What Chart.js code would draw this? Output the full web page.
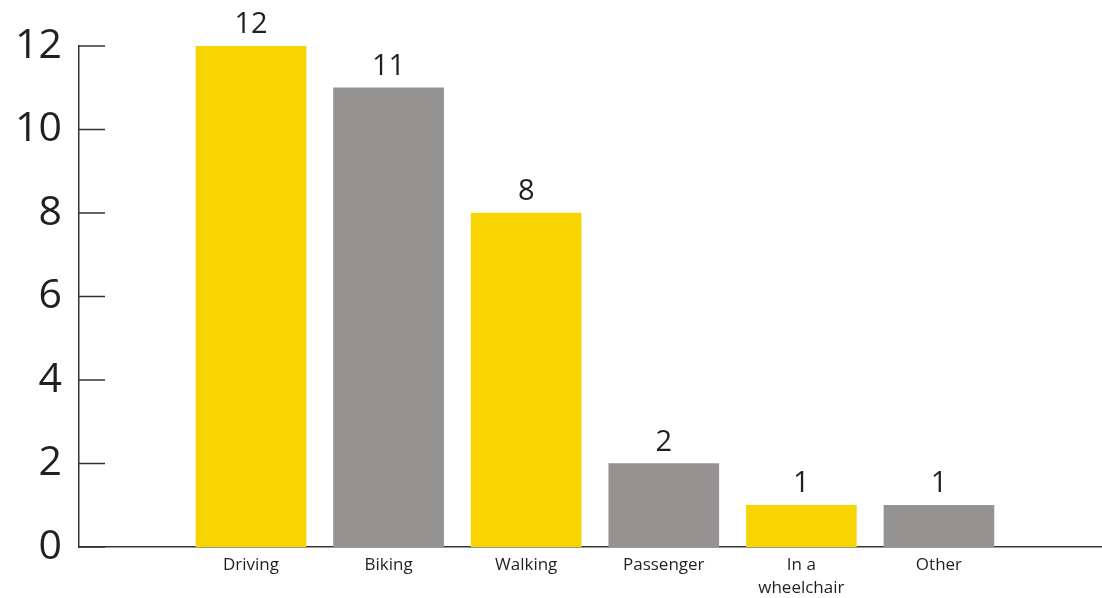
<!DOCTYPE html>
<html>
<head>
<meta charset="utf-8">
<script src="https://cdn.jsdelivr.net/npm/chart.js@4"></script>
<style>
  body { margin: 0; background: #fff; }
  #wrap { width: 1102px; height: 598px; }
</style>
</head>
<body>
<div id="wrap"><canvas id="modos" width="1102" height="598"></canvas></div>
<script>
const categorias = ['Driving', 'Biking', 'Walking', 'Passenger', ['In a', 'wheelchair'], 'Other'];
const valores = [12, 11, 8, 2, 1, 1];
const colores = ['#f8d500', '#949391', '#f8d500', '#949391', '#f8d500', '#949391'];
const ticksY = [0, 2, 4, 6, 8, 10, 12];

const tinta = '#231f20';

// numeros encima de cada barra
const etiquetas = {
    id: 'etiquetas',
    afterDatasetsDraw(chart) {
        const ctx = chart.ctx;
        const meta = chart.getDatasetMeta(0);
        ctx.save();
        ctx.font = '29px "Open Sans"';
        ctx.fillStyle = tinta;
        ctx.textAlign = 'center';
        ctx.textBaseline = 'alphabetic';
        meta.data.forEach((bar, i) => {
            ctx.fillText(valores[i], bar.x, bar.y - 13);
        });
        ctx.restore();
    }
};

// marcas del eje y hacia dentro
const marcasY = {
    id: 'marcasY',
    afterDraw(chart) {
        const ctx = chart.ctx;
        const y = chart.scales.y;
        const x0 = chart.chartArea.left;
        ctx.save();
        ctx.strokeStyle = '#333';
        ctx.lineWidth = 1.5;
        ctx.beginPath();
        ticksY.forEach(v => {
            const py = y.getPixelForValue(v);
            ctx.moveTo(x0, py);
            ctx.lineTo(x0 + 26, py);
        });
        ctx.stroke();
        ctx.restore();
    }
};

const ctx = document.getElementById('modos').getContext('2d');
const chart = new Chart(ctx, {
    type: 'bar',
    data: {
        datasets: [{
            data: valores.map((v, i) => ({ x: i, y: v })),
            backgroundColor: colores,
            barThickness: 110
        }]
    },
    options: {
        responsive: false,
        animation: false,
        layout: { padding: { top: 46, right: 0, left: 0, bottom: 0 } },
        plugins: {
            legend: { display: false },
            tooltip: { enabled: false }
        },
        scales: {
            x: {
                type: 'linear',
                offset: false,
                min: -1.25,
                max: 6.185,
                grid: { display: false, drawTicks: false },
                border: { display: true, color: '#333', width: 1.5 },
                afterBuildTicks: (axis) => {
                    axis.ticks = categorias.map((c, i) => ({ value: i }));
                },
                afterFit: (axis) => { axis.height = 51; },
                ticks: {
                    autoSkip: false,
                    maxRotation: 0,
                    padding: 7,
                    color: tinta,
                    font: { family: '"Open Sans"', size: 17, lineHeight: 1.35 },
                    callback: (v) => categorias[v]
                }
            },
            y: {
                min: 0,
                max: 12,
                grid: { display: false, drawTicks: false },
                border: { display: true, color: '#333', width: 1.5 },
                afterBuildTicks: (axis) => {
                    axis.ticks = ticksY.map(v => ({ value: v }));
                },
                afterFit: (axis) => { axis.width = 79; },
                ticks: {
                    padding: 17,
                    color: tinta,
                    font: { family: '"Open Sans"', size: 41 }
                }
            }
        }
    },
    plugins: [etiquetas, marcasY]
});
</script>
</body>
</html>
